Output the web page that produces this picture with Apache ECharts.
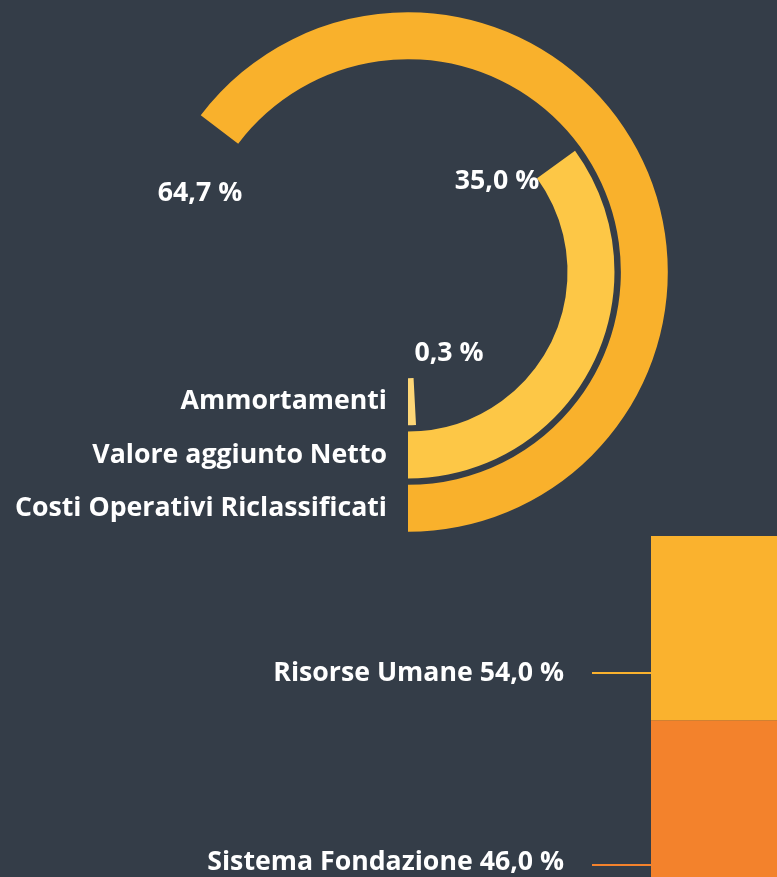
<!DOCTYPE html>
<html>
<head>
<meta charset="utf-8">
<style>
  html, body { margin: 0; padding: 0; background: #343d48; }
  #chart { width: 777px; height: 877px; }
</style>
<script src="https://cdn.jsdelivr.net/npm/echarts@6/dist/echarts.min.js"></script>
</head>
<body>
<div id="chart"></div>
<script>
// anello: dall'interno verso l'esterno
var ringNames = ['Ammortamenti', 'Valore aggiunto Netto', 'Costi Operativi Riclassificati'];
var ringValues = [0.3, 35.0, 64.7];
var ringColors = ['#fed777', '#fdc746', '#f9b12c'];

// barra in basso
var costNames = ['Sistema Fondazione', 'Risorse Umane'];
var costValues = [46.0, 54.0];
var costColors = ['#f3822c', '#fab22e'];

function pct(v) {
    return v.toFixed(1).replace('.', ',') + ' %';
}

var myChart = echarts.init(document.getElementById('chart'));
var labelFont = 'bold 26.7px "Open Sans"';

// posizione delle etichette percentuali (come nel grafico originale)
var ringLabelPos = [[449, 353], [497, 181], [200, 193]];
var costLabelY = [862, 673];
var costLineY = [865, 673];

var graphics = [];
ringValues.forEach(function (v, i) {
    graphics.push({
        type: 'text',
        x: ringLabelPos[i][0], y: ringLabelPos[i][1],
        style: { text: pct(v), textAlign: 'center', textVerticalAlign: 'middle', fill: '#ffffff', font: labelFont }
    });
});
costValues.forEach(function (v, i) {
    graphics.push({
        type: 'text',
        x: 564, y: costLabelY[i],
        style: { text: costNames[i] + ' ' + pct(v), textAlign: 'right', textVerticalAlign: 'middle', fill: '#ffffff', font: labelFont }
    });
    graphics.push({
        type: 'line',
        shape: { x1: 592, y1: costLineY[i], x2: 652, y2: costLineY[i] },
        style: { stroke: costColors[i], lineWidth: 2 }
    });
});

var option = {
    backgroundColor: '#343d48',
    animation: false,
    polar: {
        center: [408, 272],
        radius: [103, 263]
    },
    angleAxis: {
        type: 'value',
        min: 0,
        max: 100,
        startAngle: 270,
        clockwise: false,
        show: false
    },
    radiusAxis: {
        type: 'category',
        data: ringNames,
        axisLine: { show: false },
        axisTick: { show: false },
        splitLine: { show: false },
        axisLabel: {
            margin: -21,
            align: 'right',
            interval: 0,
            hideOverlap: false,
            fontFamily: 'Open Sans',
            fontWeight: 'bold',
            fontSize: 26.7,
            color: '#ffffff'
        },
        z: 10
    },
    grid: {
        left: 651,
        top: 536,
        bottom: 0,
        right: -200
    },
    xAxis: {
        type: 'category',
        data: ['costi'],
        show: false
    },
    yAxis: {
        type: 'value',
        min: 0,
        max: 100,
        show: false
    },
    graphic: graphics,
    series: [
        {
            type: 'bar',
            coordinateSystem: 'polar',
            barCategoryGap: '12%',
            barMinAngle: 3,
            data: ringValues.map(function (v, i) {
                return { value: v, itemStyle: { color: ringColors[i] } };
            })
        }
    ].concat(costValues.map(function (v, i) {
        return {
            type: 'bar',
            name: costNames[i],
            stack: 'costi',
            barWidth: '100%',
            itemStyle: { color: costColors[i] },
            data: [v]
        };
    }))
};
myChart.setOption(option);
</script>
</body>
</html>
